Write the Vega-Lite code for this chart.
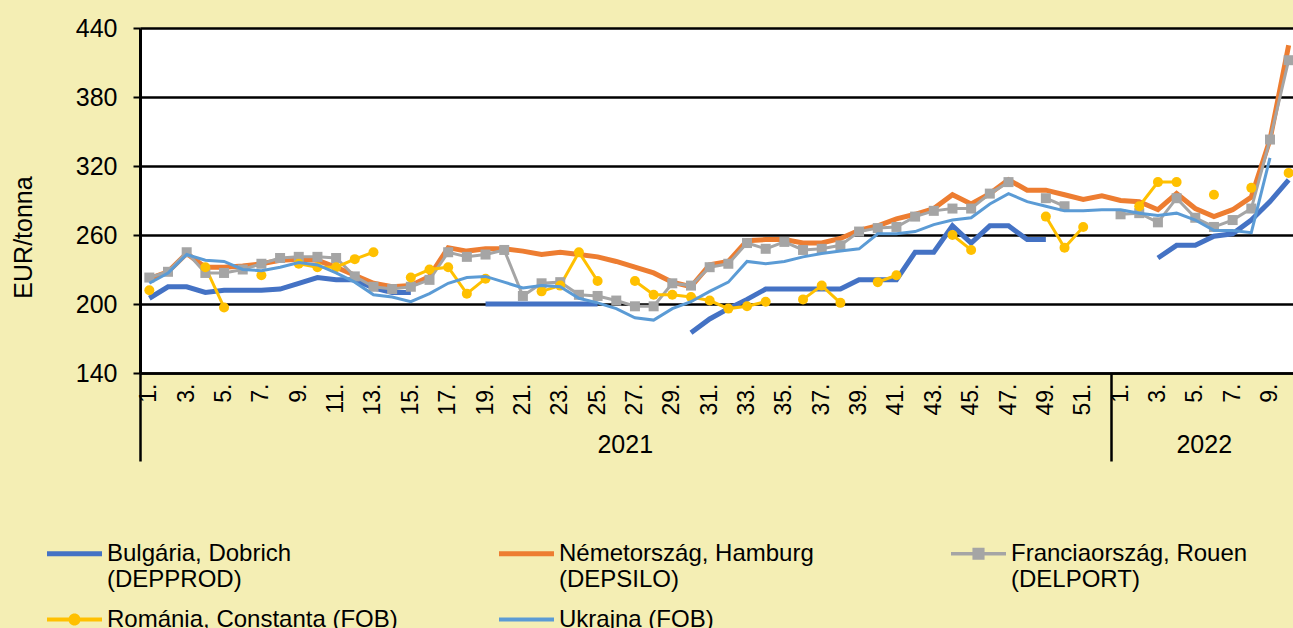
{
  "$schema": "https://vega.github.io/schema/vega-lite/v6.json",
  "width": 1158,
  "height": 345,
  "autosize": {"type": "none"},
  "padding": {"left": 140, "top": 28, "right": -5, "bottom": 255},
  "background": "#F4EEB4",
  "config": {
    "font": "Liberation Sans",
    "view": {"fill": "white", "stroke": null}
  },
  "data": {
    "values": [
      {"p": "2021-01", "BG": 205, "DE": 222, "FR": 223, "RO": 212, "UA": 218},
      {"p": "2021-02", "BG": 215, "DE": 228, "FR": 228, "UA": 227},
      {"p": "2021-03", "BG": 215, "DE": 244, "FR": 245, "UA": 243},
      {"p": "2021-04", "BG": 210, "DE": 232, "FR": 227, "RO": 232, "UA": 238},
      {"p": "2021-05", "BG": 212, "DE": 232, "FR": 227, "RO": 197, "UA": 237},
      {"p": "2021-06", "BG": 212, "DE": 233, "FR": 230, "UA": 230},
      {"p": "2021-07", "BG": 212, "DE": 235, "FR": 235, "RO": 225, "UA": 229},
      {"p": "2021-08", "BG": 213, "DE": 238, "FR": 240, "UA": 232},
      {"p": "2021-09", "BG": 218, "DE": 239, "FR": 241, "RO": 235, "UA": 236},
      {"p": "2021-10", "BG": 223, "DE": 238, "FR": 241, "RO": 232, "UA": 234},
      {"p": "2021-11", "BG": 221, "DE": 232, "FR": 240, "RO": 232, "UA": 227},
      {"p": "2021-12", "BG": 221, "DE": 225, "FR": 224, "RO": 239, "UA": 219},
      {"p": "2021-13", "BG": 214, "DE": 218, "FR": 215, "RO": 245, "UA": 208},
      {"p": "2021-14", "BG": 210, "DE": 215, "FR": 213, "UA": 206},
      {"p": "2021-15", "BG": 210, "DE": 216, "FR": 215, "RO": 223, "UA": 202},
      {"p": "2021-16", "DE": 224, "FR": 221, "RO": 230, "UA": 209},
      {"p": "2021-17", "DE": 249, "FR": 245, "RO": 232, "UA": 218},
      {"p": "2021-18", "DE": 246, "FR": 241, "RO": 209, "UA": 223},
      {"p": "2021-19", "BG": 200, "DE": 248, "FR": 243, "RO": 222, "UA": 224},
      {"p": "2021-20", "BG": 200, "DE": 248, "FR": 247, "UA": 219},
      {"p": "2021-21", "BG": 200, "DE": 246, "FR": 207, "UA": 214},
      {"p": "2021-22", "BG": 200, "DE": 243, "FR": 218, "RO": 211, "UA": 216},
      {"p": "2021-23", "BG": 200, "DE": 245, "FR": 219, "RO": 216, "UA": 215},
      {"p": "2021-24", "BG": 200, "DE": 243, "FR": 208, "RO": 245, "UA": 205},
      {"p": "2021-25", "BG": 200, "DE": 241, "FR": 207, "RO": 220, "UA": 201},
      {"p": "2021-26", "DE": 237, "FR": 203, "UA": 196},
      {"p": "2021-27", "DE": 232, "FR": 198, "RO": 220, "UA": 188},
      {"p": "2021-28", "DE": 227, "FR": 198, "RO": 208, "UA": 186},
      {"p": "2021-29", "DE": 219, "FR": 218, "RO": 208, "UA": 196},
      {"p": "2021-30", "BG": 175, "DE": 215, "FR": 216, "RO": 206, "UA": 202},
      {"p": "2021-31", "BG": 187, "DE": 234, "FR": 232, "RO": 203, "UA": 211},
      {"p": "2021-32", "BG": 196, "DE": 237, "FR": 235, "RO": 196, "UA": 219},
      {"p": "2021-33", "BG": 204, "DE": 255, "FR": 253, "RO": 198, "UA": 237},
      {"p": "2021-34", "BG": 213, "DE": 256, "FR": 248, "RO": 202, "UA": 235},
      {"p": "2021-35", "BG": 213, "DE": 256, "FR": 254, "UA": 237},
      {"p": "2021-36", "BG": 213, "DE": 253, "FR": 247, "RO": 204, "UA": 241},
      {"p": "2021-37", "BG": 213, "DE": 253, "FR": 248, "RO": 216, "UA": 244},
      {"p": "2021-38", "BG": 213, "DE": 257, "FR": 251, "RO": 201, "UA": 246},
      {"p": "2021-39", "BG": 221, "DE": 264, "FR": 263, "UA": 248},
      {"p": "2021-40", "BG": 221, "DE": 268, "FR": 266, "RO": 219, "UA": 261},
      {"p": "2021-41", "BG": 221, "DE": 274, "FR": 267, "RO": 225, "UA": 261},
      {"p": "2021-42", "BG": 245, "DE": 278, "FR": 276, "UA": 263},
      {"p": "2021-43", "BG": 245, "DE": 283, "FR": 281, "UA": 269},
      {"p": "2021-44", "BG": 268, "DE": 295, "FR": 283, "RO": 260, "UA": 273},
      {"p": "2021-45", "BG": 253, "DE": 287, "FR": 283, "RO": 247, "UA": 275},
      {"p": "2021-46", "BG": 268, "DE": 296, "FR": 296, "UA": 287},
      {"p": "2021-47", "BG": 268, "DE": 308, "FR": 306, "UA": 296},
      {"p": "2021-48", "BG": 256, "DE": 299, "UA": 289},
      {"p": "2021-49", "BG": 256, "DE": 299, "FR": 292, "RO": 276, "UA": 285},
      {"p": "2021-50", "DE": 295, "FR": 285, "RO": 249, "UA": 281},
      {"p": "2021-51", "DE": 291, "RO": 267, "UA": 281},
      {"p": "2021-52", "DE": 294, "UA": 282},
      {"p": "2022-01", "DE": 290, "FR": 278, "UA": 282},
      {"p": "2022-02", "DE": 289, "FR": 279, "RO": 285, "UA": 279},
      {"p": "2022-03", "BG": 240, "DE": 282, "FR": 271, "RO": 306, "UA": 277},
      {"p": "2022-04", "BG": 251, "DE": 296, "FR": 292, "RO": 306, "UA": 279},
      {"p": "2022-05", "BG": 251, "DE": 283, "FR": 275, "UA": 273},
      {"p": "2022-06", "BG": 259, "DE": 276, "FR": 267, "RO": 295, "UA": 264},
      {"p": "2022-07", "BG": 261, "DE": 282, "FR": 273, "UA": 264},
      {"p": "2022-08", "BG": 273, "DE": 293, "FR": 283, "RO": 301, "UA": 262},
      {"p": "2022-09", "BG": 289, "DE": 343, "FR": 343, "UA": 327},
      {"p": "2022-10", "BG": 308, "DE": 425, "FR": 412, "RO": 314}
    ]
  },
  "transform": [{"fold": ["BG", "DE", "FR", "RO", "UA"], "as": ["s", "v"]}],
  "encoding": {
    "y": {
      "field": "v",
      "type": "quantitative",
      "scale": {"domain": [140, 440], "nice": false, "zero": false},
      "axis": {
        "values": [140, 200, 260, 320, 380, 440],
        "grid": true,
        "gridColor": "black",
        "gridWidth": 2.5,
        "gridOpacity": 1,
        "domainColor": "black",
        "domainWidth": 3,
        "tickColor": "black",
        "tickWidth": 2,
        "tickSize": 7,
        "labelFontSize": 25,
        "labelColor": "black",
        "labelPadding": 16,
        "title": "EUR/tonna",
        "titleFontSize": 25,
        "titleFontWeight": "normal",
        "titleColor": "black",
        "titleAngle": 270,
        "titleAlign": "center",
        "titleBaseline": "middle",
        "titleX": -117,
        "titleY": 209
      }
    },
    "color": {
      "field": "s",
      "type": "nominal",
      "scale": {
        "domain": ["BG", "DE", "FR", "RO", "UA"],
        "range": ["#4472C4", "#ED7D31", "#A5A5A5", "#FFC000", "#5B9BD5"]
      },
      "legend": {
        "orient": "none",
        "direction": "horizontal",
        "legendX": -93,
        "legendY": 498,
        "columns": 3,
        "gridAlign": "all",
        "columnPadding": 101,
        "rowPadding": -3,
        "title": null,
        "padding": 0,
        "symbolType": "stroke",
        "symbolSize": 3025,
        "symbolStrokeWidth": 0,
        "labelFontSize": 24,
        "labelColor": "black",
        "labelLimit": 600,
        "labelOffset": 5,
        "labelExpr": "datum.value==='BG' ? ['Bulgária, Dobrich','(DEPPROD)'] : datum.value==='DE' ? ['Németország, Hamburg','(DEPSILO)'] : datum.value==='FR' ? ['Franciaország, Rouen','(DELPORT)'] : datum.value==='RO' ? 'Románia, Constanța (FOB)' : 'Ukrajna (FOB)'",
        "encode": {
          "symbols": {
            "update": {
              "shape": {"signal": "datum.value==='FR' ? 'M-1,-0.065H1V0.065H-1Z M-0.22,-0.22H0.22V0.22H-0.22Z' : datum.value==='RO' ? 'M-1,-0.075H1V0.075H-1Z M0.22,0A0.22,0.22 0 1,1 -0.22,0A0.22,0.22 0 1,1 0.22,0Z' : datum.value==='UA' ? 'M-1,-0.075H1V0.075H-1Z' : 'M-1,-0.09H1V0.09H-1Z'"},
              "fill": {"scale": "color", "field": "value"},
              "stroke": {"value": "transparent"},
              "strokeWidth": {"value": 0},
              "opacity": {"value": 1}
            }
          }
        }
      }
    }
  },
  "layer": [
    {
      "transform": [{"filter": "datum.s === 'BG' || datum.s === 'DE'"}],
      "mark": {"type": "line", "strokeWidth": 5, "invalid": "break-paths-show-domains"},
      "encoding": {
        "x": {
          "field": "p",
          "type": "ordinal",
          "scale": {"type": "band", "paddingInner": 0, "paddingOuter": 0},
          "axis": {
            "orient": "bottom",
            "values": ["2021-01","2021-03","2021-05","2021-07","2021-09","2021-11","2021-13","2021-15","2021-17","2021-19","2021-21","2021-23","2021-25","2021-27","2021-29","2021-31","2021-33","2021-35","2021-37","2021-39","2021-41","2021-43","2021-45","2021-47","2021-49","2021-51","2022-01","2022-03","2022-05","2022-07","2022-09"],
            "labelExpr": "toNumber(substring(datum.value, 5)) + '.'",
            "labelAngle": 270,
            "labelFontSize": 23,
            "labelColor": "black",
            "labelPadding": 10,
            "labelOverlap": false,
            "ticks": false,
            "grid": false,
            "domainColor": "black",
            "domainWidth": 2.5,
            "title": null
          }
        }
      }
    },
    {
      "transform": [{"filter": "datum.s === 'FR' || datum.s === 'RO'"}],
      "mark": {"type": "line", "strokeWidth": 3, "invalid": "break-paths-show-domains"},
      "encoding": {
        "x": {
          "field": "p",
          "type": "ordinal",
          "scale": {"type": "band", "paddingInner": 0, "paddingOuter": 0},
          "axis": {
            "orient": "bottom",
            "values": ["2021-26", "2022-05"],
            "labelOffset": 9,
            "labelExpr": "substring(datum.value, 0, 4)",
            "labelAngle": 0,
            "labelAlign": "center",
            "labelBaseline": "top",
            "labelFontSize": 25,
            "labelColor": "black",
            "labelPadding": 59,
            "ticks": false,
            "domain": false,
            "grid": false,
            "title": null
          }
        }
      }
    },
    {
      "transform": [{"filter": "(datum.s === 'FR' || datum.s === 'RO') && isValid(datum.v)"}],
      "mark": {"type": "point", "filled": true, "opacity": 1, "size": 100},
      "encoding": {
        "x": {
          "field": "p",
          "type": "ordinal",
          "scale": {"type": "band", "paddingInner": 0, "paddingOuter": 0},
          "axis": {
            "orient": "bottom",
            "values": ["2021-01", "2022-01"],
            "bandPosition": 0,
            "labels": false,
            "domain": false,
            "grid": false,
            "ticks": true,
            "tickSize": 88,
            "tickWidth": 2.5,
            "tickColor": "black",
            "title": null
          }
        },
        "shape": {
          "field": "s",
          "type": "nominal",
          "scale": {"domain": ["FR", "RO"], "range": ["square", "circle"]},
          "legend": null
        }
      }
    },
    {
      "transform": [{"filter": "datum.s === 'UA'"}],
      "mark": {"type": "line", "strokeWidth": 3, "invalid": "break-paths-show-domains"},
      "encoding": {
        "x": {
          "field": "p",
          "type": "ordinal",
          "scale": {"type": "band", "paddingInner": 0, "paddingOuter": 0},
          "axis": null
        }
      }
    }
  ],
  "resolve": {"axis": {"x": "independent"}}
}
